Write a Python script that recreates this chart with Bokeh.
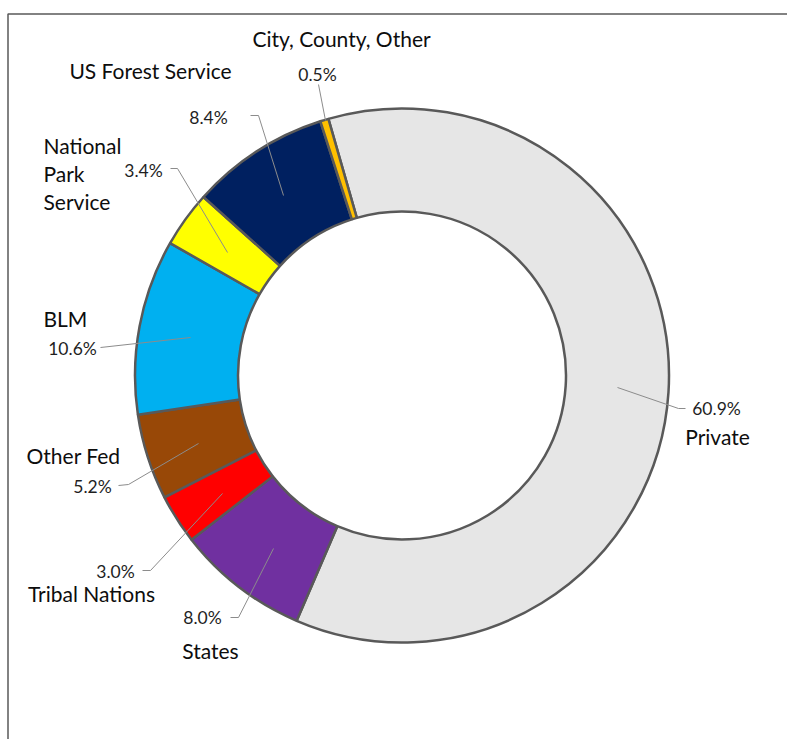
import math
from bokeh.plotting import figure
from bokeh.models import Range1d, ColumnDataSource
from bokeh.core.properties import value
from bokeh.embed import file_html
from bokeh.resources import INLINE

# ---------------- data ----------------
categories = ["Private", "States", "Tribal Nations", "Other Fed", "BLM",
              "National Park Service", "US Forest Service", "City, County, Other"]
shares = [60.9, 8.0, 3.0, 5.2, 10.6, 3.4, 8.4, 0.5]
colors = ["#E6E6E6", "#7030A0", "#FF0000", "#984807", "#00B0F0",
          "#FFFF00", "#002060", "#FFC000"]
first_slice_angle = 344.0   # degrees clockwise from 12 o'clock

# ---------------- layout (pixels) ----------------
W, H = 787, 739
CX, CY = 401.5, 375.0
R_OUT, R_IN = 267.0, 164.0
FONT = "Lato"
NAME_SIZE = "21px"
PCT_SIZE = "17.5px"

name_pos = {
    "Private": [("Private", 717, 436, "center")],
    "States": [("States", 210, 650, "center")],
    "Tribal Nations": [("Tribal Nations", 91, 593, "center")],
    "Other Fed": [("Other Fed", 73, 455, "center")],
    "BLM": [("BLM", 43, 318, "left")],
    "National Park Service": [("National", 43, 145, "left"), ("Park", 43, 173, "left"),
                              ("Service", 43, 201, "left")],
    "US Forest Service": [("US Forest Service", 150, 70, "center")],
    "City, County, Other": [("City, County, Other", 341, 38, "center")],
}
pct_pos = {
    "Private": (716, 408), "States": (202, 617), "Tribal Nations": (115, 571),
    "Other Fed": (92, 486), "BLM": (72, 348), "National Park Service": (143, 170),
    "US Forest Service": (208, 117), "City, County, Other": (317, 74),
}
leaders = {
    "Private": [(685, 408), (678, 408), (617, 387)],
    "States": [(230, 617), (238, 617), (273, 548)],
    "Tribal Nations": [(142, 570), (150, 570), (222, 493)],
    "Other Fed": [(118, 485), (128, 484), (198, 443)],
    "BLM": [(100, 347), (190, 337)],
    "National Park Service": [(170, 168), (177, 168), (227, 252)],
    "US Forest Service": [(250, 115), (258, 115), (283, 195)],
    "City, County, Other": [(318, 84), (325, 120)],
}

# ---------------- figure ----------------
p = figure(width=W, height=H, output_backend="svg", toolbar_location=None,
           x_range=Range1d(0, W), y_range=Range1d(-H, 0),
           x_axis_location=None, y_axis_location=None, min_border=0)
p.grid.visible = False
p.outline_line_color = None
p.background_fill_color = "white"
p.border_fill_color = "white"

# chart-area border (left & top; right/bottom are off-page in the reference)
p.line(x=[7.5, 7.5, W], y=[-H, -13.5, -13.5], line_color="#595959", line_width=1.5)

# wedges: clockwise from first_slice_angle
total = sum(shares)
starts, ends = [], []
acc = first_slice_angle
for s in shares:
    a0 = acc
    a1 = acc + s / total * 360.0
    starts.append(math.radians(90 - a1))
    ends.append(math.radians(90 - a0))
    acc = a1

src = ColumnDataSource(dict(start=starts, end=ends, color=colors, cat=categories))
p.annular_wedge(x=CX, y=-CY, inner_radius=R_IN, outer_radius=R_OUT,
                start_angle="start", end_angle="end", direction="anticlock",
                fill_color="color", line_color="#595959", line_width=2.5, source=src)

# leader lines
xs, ys = [], []
for c in categories:
    pts = leaders[c]
    xs.append([pt[0] for pt in pts])
    ys.append([-pt[1] for pt in pts])
p.multi_line(xs=xs, ys=ys, line_color="#8C8C8C", line_width=1)

# percentage labels
pct_text = [f"{v:.1f}%" for v in shares]
p.text(x=[pct_pos[c][0] for c in categories], y=[-pct_pos[c][1] for c in categories],
       text=pct_text, text_align="center", text_baseline="middle",
       text_font=value(FONT), text_font_size=PCT_SIZE, text_color="#1F1F1F")

# category labels
for align in ("left", "center"):
    items = [it for c in categories for it in name_pos[c] if it[3] == align]
    p.text(x=[it[1] for it in items], y=[-it[2] for it in items],
           text=[it[0] for it in items], text_align=align, text_baseline="middle",
           text_font=value(FONT), text_font_size=NAME_SIZE, text_color="#0D0D0D")

open("out.html", "w").write(file_html(p, INLINE))
